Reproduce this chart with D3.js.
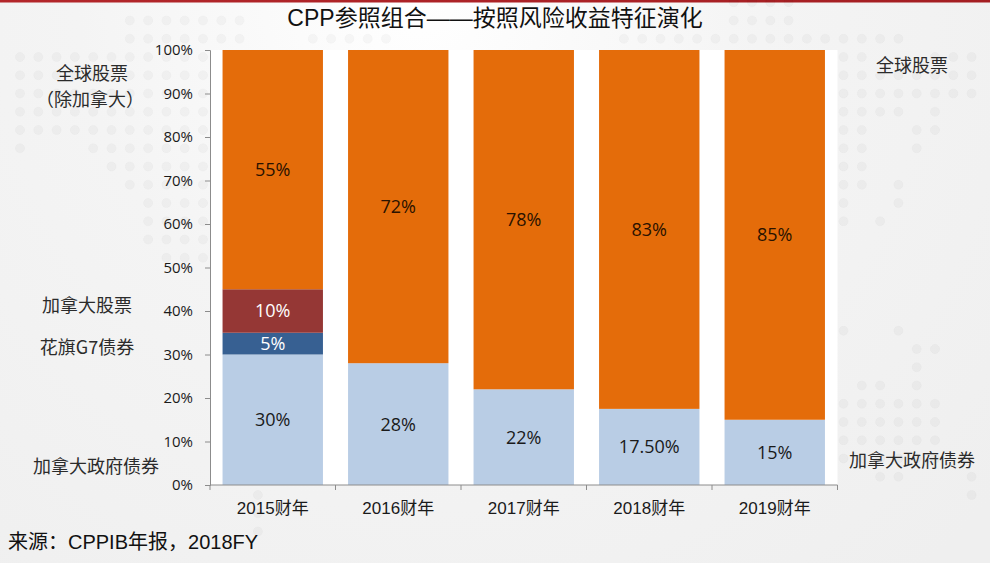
<!DOCTYPE html>
<html>
<head>
<meta charset="utf-8">
<script src="https://cdn.jsdelivr.net/npm/d3@7"></script>
<style>
  html, body { margin: 0; padding: 0; background: #f0f0f0; }
  svg { display: block; }
</style>
</head>
<body>
<svg id="chart" width="990" height="563"></svg>
<script>
// ---- data ----
const categories = ["2015财年", "2016财年", "2017财年", "2018财年", "2019财年"];
const canadaGovBonds = [30, 28, 22, 17.5, 15];      // 加拿大政府债券
const citiG7Bonds    = [5, 0, 0, 0, 0];              // 花旗G7债券
const canadaEquity   = [10, 0, 0, 0, 0];             // 加拿大股票
const globalEquity   = [55, 72, 78, 82.5, 85];       // 全球股票（除加拿大）
const yTicks = [0, 10, 20, 30, 40, 50, 60, 70, 80, 90, 100];
const titleText = "CPP参照组合——按照风险收益特征演化";
const sourceText = "来源：CPPIB年报，2018FY";

const seriesKeys = ["gov", "g7", "cad", "global"];
const seriesColors = { gov: "#b9cde5", g7: "#376092", cad: "#953735", global: "#e46c0a" };
const labelColors = { gov: "#1a1a1a", g7: "#ffffff", cad: "#ffffff", global: "#2a1200" };

// decorative background dot map (row, colStart, colEnd)
const dotSegments = [
  [-1,39,42],[0,6,12],[0,39,42],[1,6,12],[1,16,20],[1,33,48],
  [2,0,10],[2,45,46],[2,50,52],[3,0,10],[3,45,52],[4,0,10],[4,45,52],
  [5,0,10],[5,45,48],[5,50,50],[6,0,10],[6,45,46],[6,49,50],
  [7,0,0],[7,4,10],[7,45,46],[7,49,49],[8,5,10],[8,45,46],
  [9,6,10],[9,45,46],[9,48,48],[10,7,10],[10,45,45],[10,48,48],
  [11,7,10],[11,45,45],[11,47,47],[12,7,10],[13,8,10],
  [17,45,45],[17,48,48],[18,49,50],[19,49,49],[20,46,47],[20,49,49],
  [21,45,50],[22,45,50],[23,45,50],[24,45,50],[25,47,48],[25,52,52],[26,52,52],
  [26,13,13],[27,13,13],[28,13,13]
];

const svg = d3.select("#chart");
const W = 990, H = 563;

// ---- background ----
const defs = svg.append("defs");
const rg = defs.append("radialGradient").attr("id", "bg")
  .attr("gradientUnits", "userSpaceOnUse").attr("cx", 420).attr("cy", 0).attr("r", 760);
rg.append("stop").attr("offset", "0%").attr("stop-color", "#ffffff");
rg.append("stop").attr("offset", "45%").attr("stop-color", "#f4f4f4");
rg.append("stop").attr("offset", "100%").attr("stop-color", "#efefef");
svg.append("rect").attr("width", W).attr("height", H).attr("fill", "url(#bg)");

const lg = defs.append("linearGradient").attr("id", "topline");
lg.append("stop").attr("offset", "0%").attr("stop-color", "#b3262a");
lg.append("stop").attr("offset", "100%").attr("stop-color", "#a41e22");
svg.append("rect").attr("width", W).attr("height", 2.5).attr("fill", "url(#topline)");

const dots = [];
dotSegments.forEach(([r, c0, c1]) => { for (let c = c0; c <= c1; c++) dots.push([c, r]); });
svg.append("g").selectAll("circle").data(dots).join("circle")
  .attr("cx", d => 20 + d[0] * 18.3).attr("cy", d => 20.5 + d[1] * 18.25)
  .attr("r", 4.6).attr("fill", "#000").attr("fill-opacity", 0.028)
  .attr("stroke", "#000").attr("stroke-opacity", 0.02).attr("stroke-width", 1);

// ---- layout ----
const plot = { left: 210, right: 837.5, top: 50, bottom: 485 };
const x = d3.scaleBand().domain(categories).range([plot.left, plot.right]).paddingInner(0.2).paddingOuter(0.1);
const y = d3.scaleLinear().domain([0, 100]).range([plot.bottom, plot.top]);

svg.append("rect").attr("x", plot.left).attr("y", plot.top)
  .attr("width", plot.right - plot.left).attr("height", plot.bottom - plot.top).attr("fill", "#ffffff");

// ---- stacked data ----
const rows = categories.map((c, i) => ({
  cat: c, gov: canadaGovBonds[i], g7: citiG7Bonds[i], cad: canadaEquity[i], global: globalEquity[i]
}));
const stacked = d3.stack().keys(seriesKeys)(rows);

const fmt = (key, v) => (key === "gov" && v % 1 !== 0) ? v.toFixed(2) + "%" : Math.round(v) + "%";

const layers = svg.append("g").selectAll("g").data(stacked).join("g")
  .attr("fill", d => seriesColors[d.key]);
layers.selectAll("rect").data(d => d.filter(s => s[1] - s[0] > 0)).join("rect")
  .attr("x", d => x(d.data.cat)).attr("width", x.bandwidth())
  .attr("y", d => y(d[1])).attr("height", d => y(d[0]) - y(d[1]));

const labelG = svg.append("g").attr("font-family", "'Open Sans', 'Noto Sans', sans-serif").attr("font-size", 18)
  .attr("text-anchor", "middle");
stacked.forEach(layer => {
  layer.filter(s => s[1] - s[0] > 0).forEach(s => {
    labelG.append("text")
      .attr("x", x(s.data.cat) + x.bandwidth() / 2)
      .attr("y", y((s[0] + s[1]) / 2))
      .attr("dy", "0.36em")
      .attr("fill", labelColors[layer.key])
      .text(fmt(layer.key, s[1] - s[0]));
  });
});

// ---- axes ----
const axisColor = "#8c8c8c";
const yAxis = svg.append("g").attr("transform", `translate(${plot.left},0)`)
  .call(d3.axisLeft(y).tickValues(yTicks).tickFormat(d => d + "%").tickSize(5).tickPadding(12));
yAxis.select(".domain").attr("stroke", axisColor);
yAxis.selectAll(".tick line").attr("stroke", axisColor);
yAxis.selectAll("text").attr("font-family", "'Open Sans', 'Noto Sans', sans-serif")
  .attr("font-size", 15).attr("fill", "#1a1a1a");

const xAxisG = svg.append("g").attr("transform", `translate(0,${plot.bottom})`);
xAxisG.append("line").attr("x1", plot.left).attr("x2", plot.right).attr("stroke", axisColor);
const boundaries = d3.range(categories.length + 1).map(i => plot.left + i * (plot.right - plot.left) / categories.length);
xAxisG.selectAll(".bt").data(boundaries).join("line").attr("class", "bt")
  .attr("x1", d => d).attr("x2", d => d).attr("y1", 0).attr("y2", 5).attr("stroke", axisColor);
xAxisG.selectAll(".cl").data(categories).join("text").attr("class", "cl")
  .attr("x", d => x(d) + x.bandwidth() / 2).attr("y", 29)
  .attr("text-anchor", "middle")
  .attr("font-family", "'Liberation Sans', 'Noto Sans CJK SC', sans-serif")
  .attr("font-size", 17).attr("fill", "#1a1a1a").text(d => d);

// ---- title & source ----
svg.append("text").attr("x", 495).attr("y", 26).attr("text-anchor", "middle")
  .attr("font-family", "'Liberation Sans', 'Noto Sans CJK SC', sans-serif")
  .attr("font-size", 23).attr("fill", "#111").text(titleText);

svg.append("text").attr("x", 8).attr("y", 549)
  .attr("font-family", "'Liberation Sans', 'Noto Sans CJK SC', sans-serif")
  .attr("font-size", 20).attr("fill", "#111").text(sourceText);

// ---- series annotations ----
const annFont = "'Noto Sans CJK SC', 'Noto Sans', sans-serif";
const leftAnn = [
  { text: "全球股票", x: 92, key: "global", dy: -13 },
  { text: "（除加拿大）", x: 90, key: "global", dy: 13 },
  { text: "加拿大股票", x: 87, key: "cad", dy: 0 },
  { text: "花旗G7债券", x: 87, key: "g7", dy: 0 },
  { text: "加拿大政府债券", x: 96, key: "gov", dy: 0 }
];
const leftY = { global: 87, cad: 306, g7: 348, gov: 467 };
svg.append("g").selectAll("text").data(leftAnn).join("text")
  .attr("x", d => d.x).attr("y", d => leftY[d.key] + d.dy).attr("dy", "0.35em")
  .attr("text-anchor", "middle").attr("font-family", annFont).attr("font-size", 18)
  .attr("fill", "#2b2b2b").text(d => d.text);

const rightAnn = [
  { text: "全球股票", y: 66 },
  { text: "加拿大政府债券", y: 461 }
];
svg.append("g").selectAll("text").data(rightAnn).join("text")
  .attr("x", 912).attr("y", d => d.y).attr("dy", "0.35em")
  .attr("text-anchor", "middle").attr("font-family", annFont).attr("font-size", 18)
  .attr("fill", "#2b2b2b").text(d => d.text);
</script>
</body>
</html>
